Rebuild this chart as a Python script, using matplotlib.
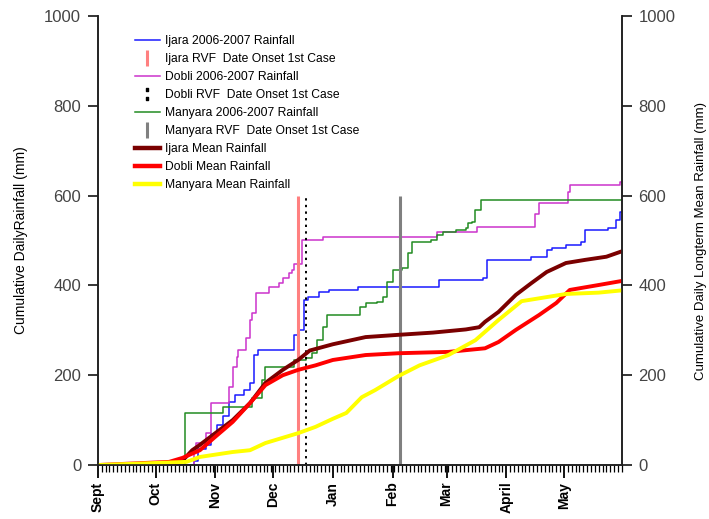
import matplotlib
matplotlib.use("Agg")
import matplotlib.pyplot as plt
from matplotlib.lines import Line2D
from matplotlib.ticker import MultipleLocator

plt.rcParams['font.family'] = ['Liberation Sans', 'DejaVu Sans']

# days counted from 1 September 2006
month_days = [0, 30, 61, 91, 122, 153, 181, 212, 242]
month_names = ["Sept", "Oct", "Nov", "Dec", "Jan", "Feb", "Mar", "April", "May"]
season_end = 272

# 2006-2007 cumulative rainfall (mm), step values
ijara_days = [0, 50, 52, 56, 59, 62, 65, 68, 71, 76, 79, 81, 83, 102, 104, 107, 109,
              115, 120, 135, 177, 200, 202, 225, 233, 236, 243, 251, 253, 265, 269, 271, 272]
ijara_rain = [0, 10, 35, 45, 70, 90, 110, 140, 155, 168, 183, 245, 256, 290, 300, 367, 375,
              385, 390, 397, 412, 416, 456, 464, 479, 483, 490, 497, 523, 528, 546, 564, 564]

dobli_days = [0, 49, 50, 51, 56, 59, 68, 70, 72, 73, 77, 79, 80, 82, 89, 94, 96, 99, 101,
              102, 106, 117, 176, 197, 227, 229, 244, 245, 271, 272]
dobli_rain = [0, 0, 29, 49, 71, 138, 174, 218, 241, 256, 283, 323, 338, 383, 397, 405, 416,
              427, 434, 448, 501, 508, 520, 531, 560, 583, 609, 624, 631, 631]

manyara_days = [0, 45, 65, 80, 85, 87, 102, 108, 111, 114, 117, 119, 136, 139, 145, 148,
                150, 153, 158, 161, 163, 173, 176, 179, 186, 191, 192, 194, 196, 199, 272]
manyara_rain = [0, 116, 129, 150, 189, 218, 234, 238, 249, 278, 308, 334, 352, 360, 363, 374,
                408, 434, 438, 472, 497, 501, 512, 519, 523, 528, 539, 541, 568, 590, 590]

# long term mean cumulative rainfall (mm)
ijara_mean_days = [0, 38, 44, 49, 53, 61, 70, 79, 87, 96, 104, 110, 122, 139, 156, 174, 191,
                   198, 201, 208, 217, 225, 233, 243, 253, 264, 272]
ijara_mean = [0, 0, 10, 33, 45, 71, 100, 138, 183, 212, 234, 255, 269, 285, 290, 295, 302,
              307, 319, 341, 379, 405, 430, 450, 457, 464, 476]

dobli_mean_days = [0, 37, 44, 53, 61, 70, 79, 87, 96, 104, 113, 122, 139, 156, 182, 201,
                   208, 217, 229, 238, 245, 260, 272]
dobli_mean = [0, 7, 16, 33, 63, 96, 138, 178, 200, 212, 222, 234, 245, 249, 252, 260,
              274, 301, 334, 361, 390, 401, 410]

manyara_mean_days = [0, 46, 53, 70, 79, 87, 104, 113, 122, 129, 137, 144, 156, 167, 182,
                     196, 208, 220, 243, 260, 272]
manyara_mean = [0, 7, 18, 29, 33, 49, 71, 85, 103, 116, 151, 167, 198, 222, 245,
                278, 323, 365, 381, 384, 389]

# date of onset of the first RVF case
onset_sites = ["Ijara", "Dobli", "Manyara"]
onset_days = [104, 108, 157]
onset_top = 600

fig = plt.figure(figsize=(7.09, 5.19), dpi=100)
ax = fig.add_axes([0.138, 0.104, 0.739, 0.865])
ax2 = ax.twinx()

ax.plot(ijara_days, ijara_rain, drawstyle='steps-post', color='#1a1aff', lw=1.1)
ax.plot(dobli_days, dobli_rain, drawstyle='steps-post', color='#cc33cc', lw=1.1)
ax.plot(manyara_days, manyara_rain, drawstyle='steps-post', color='#228b22', lw=1.1)

onset_styles = [dict(color='#ff8080', lw=2.2, ls='-'),
                dict(color='black', lw=1.4, ls=(0, (1.2, 2.2))),
                dict(color='#808080', lw=2.2, ls='-')]
for day, style in zip(onset_days, onset_styles):
    ax.vlines(day, 0, onset_top, **style)

ax2.plot(ijara_mean_days, ijara_mean, color='#7a0000', lw=2.8)
ax2.plot(dobli_mean_days, dobli_mean, color='#ff0000', lw=2.8)
ax2.plot(manyara_mean_days, manyara_mean, color='#ffff00', lw=2.8)

for a in (ax, ax2):
    a.set_xlim(0, season_end)
    a.set_ylim(0, 1000)
    a.set_yticks(range(0, 1001, 200))
    a.spines['top'].set_visible(False)
    for s in a.spines.values():
        s.set_linewidth(1.2)
        s.set_color('#222222')
    a.tick_params(axis='y', length=7, width=1.1, pad=5, labelsize=12, labelcolor='#444444')

ax.set_xticks(month_days)
ax.set_xticklabels(month_names, rotation=90, fontsize=10, fontweight='bold', va='top')
ax.xaxis.set_minor_locator(MultipleLocator(2))
ax.tick_params(axis='x', which='major', length=9, width=1.3, pad=3)
ax.tick_params(axis='x', which='minor', length=5, width=0.9)

ax.set_ylabel("Cumulative DailyRainfall (mm)", fontsize=10, labelpad=12)
ax2.set_ylabel("Cumulative Daily Longterm Mean Rainfall (mm)", fontsize=9.5, labelpad=14)

handles = [
    Line2D([], [], color='#1a1aff', lw=1.1),
    Line2D([], [], color='#ff8080', marker='|', ls='none', ms=11, mew=2.2),
    Line2D([], [], color='#cc33cc', lw=1.1),
    Line2D([], [], color='black', marker='$:$', ls='none', ms=8),
    Line2D([], [], color='#228b22', lw=1.1),
    Line2D([], [], color='#808080', marker='|', ls='none', ms=11, mew=2.2),
    Line2D([], [], color='#7a0000', lw=3.2),
    Line2D([], [], color='#ff0000', lw=3.2),
    Line2D([], [], color='#ffff00', lw=3.2),
]
labels = [
    "Ijara 2006-2007 Rainfall",
    "Ijara RVF  Date Onset 1st Case",
    "Dobli 2006-2007 Rainfall",
    "Dobli RVF  Date Onset 1st Case",
    "Manyara 2006-2007 Rainfall",
    "Manyara RVF  Date Onset 1st Case",
    "Ijara Mean Rainfall",
    "Dobli Mean Rainfall",
    "Manyara Mean Rainfall",
]
ax2.legend(handles, labels, loc='upper left', bbox_to_anchor=(0.07, 0.958),
           frameon=False, fontsize=8.7, handlelength=2.1, handletextpad=0.45,
           labelspacing=0.5, borderpad=0, borderaxespad=0)

fig.savefig("out.png", dpi=100)
